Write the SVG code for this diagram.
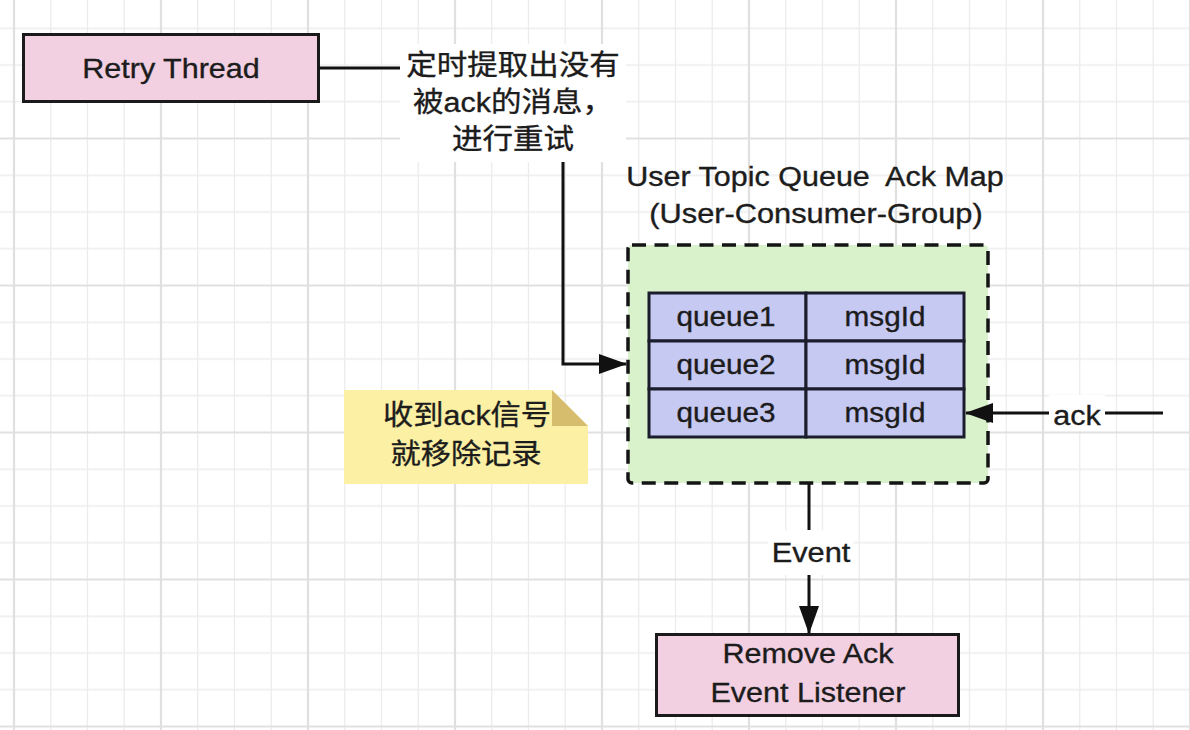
<svg xmlns="http://www.w3.org/2000/svg" width="1190" height="730" viewBox="0 0 1190 730">
  <style>
    .t { font-family: "Liberation Sans", "Noto Sans CJK SC", sans-serif; fill: #1c1c1c; stroke: #1c1c1c; stroke-width: 0.35; text-anchor: middle; }
    .box { stroke: #1a1a1a; stroke-width: 3; }
    .pink { fill: #f2d0e2; }
    .cell { fill: #c6c9f2; stroke: #1b1c2c; stroke-width: 3; }
    .edge { fill: none; stroke: #111; stroke-width: 3; }
    .lblbg { fill: #ffffff; }
  </style>
  <defs>
    <pattern id="grid" x="14" y="-8.5" width="147" height="147" patternUnits="userSpaceOnUse">
      <path d="M36.75,0V147M73.5,0V147M110.25,0V147M0,36.75H147M0,73.5H147M0,110.25H147" stroke="#ececec" stroke-width="1.3" fill="none"/>
      <path d="M0,0V147M147,0V147M0,0H147M0,147H147" stroke="#e0e0e0" stroke-width="2.2" fill="none"/>
    </pattern>
    <marker id="arrow" viewBox="0 0 28 20" refX="27" refY="10" markerWidth="28" markerHeight="20" markerUnits="userSpaceOnUse" orient="auto">
      <path d="M0,0 L28,10 L0,20 Z" fill="#111"/>
    </marker>
  </defs>

  <rect x="0" y="0" width="1190" height="730" fill="#ffffff"/>
  <rect x="0" y="0" width="1190" height="730" fill="url(#grid)"/>

  <g id="retry-thread">
    <rect class="box pink" x="23.5" y="34.5" width="295" height="67"/>
    <text class="t" font-size="28" transform="translate(171,78) scale(1.09,1)">Retry Thread</text>
  </g>

  <g id="ack-map">
    <text class="t" font-size="27" transform="translate(815,186) scale(1.13,1)">User Topic Queue&#160; Ack Map</text>
    <text class="t" font-size="27" transform="translate(816,223) scale(1.14,1)">(User-Consumer-Group)</text>
    <rect x="628" y="245" width="360" height="238" rx="4" fill="#daf2cc" stroke="#141414" stroke-width="3.5" stroke-dasharray="14 8.5"/>
    <g id="table">
      <rect class="cell" x="649" y="293" width="157" height="48"/>
      <rect class="cell" x="806" y="293" width="158" height="48"/>
      <rect class="cell" x="649" y="341" width="157" height="48"/>
      <rect class="cell" x="806" y="341" width="158" height="48"/>
      <rect class="cell" x="649" y="389" width="157" height="48"/>
      <rect class="cell" x="806" y="389" width="158" height="48"/>
      <text class="t" font-size="27" transform="translate(726,326) scale(1.1,1)">queue1</text>
      <text class="t" font-size="27" transform="translate(885,326) scale(1.1,1)">msgId</text>
      <text class="t" font-size="27" transform="translate(726,374) scale(1.1,1)">queue2</text>
      <text class="t" font-size="27" transform="translate(885,374) scale(1.1,1)">msgId</text>
      <text class="t" font-size="27" transform="translate(726,422) scale(1.1,1)">queue3</text>
      <text class="t" font-size="27" transform="translate(885,422) scale(1.1,1)">msgId</text>
    </g>
  </g>

  <g id="note">
    <path d="M344,390 H552 L588,426 V484 H344 Z" fill="#fbf0a4"/>
    <path d="M552,390 L552,426 L588,426 Z" fill="#d6bd6e"/>
    <text class="t" font-size="28" transform="translate(467,425) scale(1.08,1)">收到ack信号</text>
    <text class="t" font-size="28" transform="translate(466,464) scale(1.08,1)">就移除记录</text>
  </g>

  <g id="remove-listener">
    <rect class="box pink" x="656.5" y="634.5" width="302" height="81"/>
    <text class="t" font-size="28" transform="translate(808,663) scale(1.09,1)">Remove Ack</text>
    <text class="t" font-size="28" transform="translate(808,702) scale(1.09,1)">Event Listener</text>
  </g>

  <g id="connectors">
    <path class="edge" d="M319,68 H563 V364 H626" marker-end="url(#arrow)"/>
    <path class="edge" d="M809,483 V633" marker-end="url(#arrow)"/>
    <path class="edge" d="M1163,413 H966" marker-end="url(#arrow)"/>

    <rect class="lblbg" x="400" y="44" width="226" height="118"/>
    <text class="t" font-size="28" transform="translate(513,75) scale(1.09,1)">定时提取出没有</text>
    <text class="t" font-size="28" transform="translate(513,112) scale(1.09,1)">被ack的消息，</text>
    <text class="t" font-size="28" transform="translate(513,149) scale(1.09,1)">进行重试</text>

    <rect class="lblbg" x="768" y="530" width="85" height="45"/>
    <text class="t" font-size="28" transform="translate(811,562) scale(1.1,1)">Event</text>

    <rect class="lblbg" x="1049" y="395" width="56" height="36"/>
    <text class="t" font-size="28" transform="translate(1077,425) scale(1.09,1)">ack</text>
  </g>
</svg>
